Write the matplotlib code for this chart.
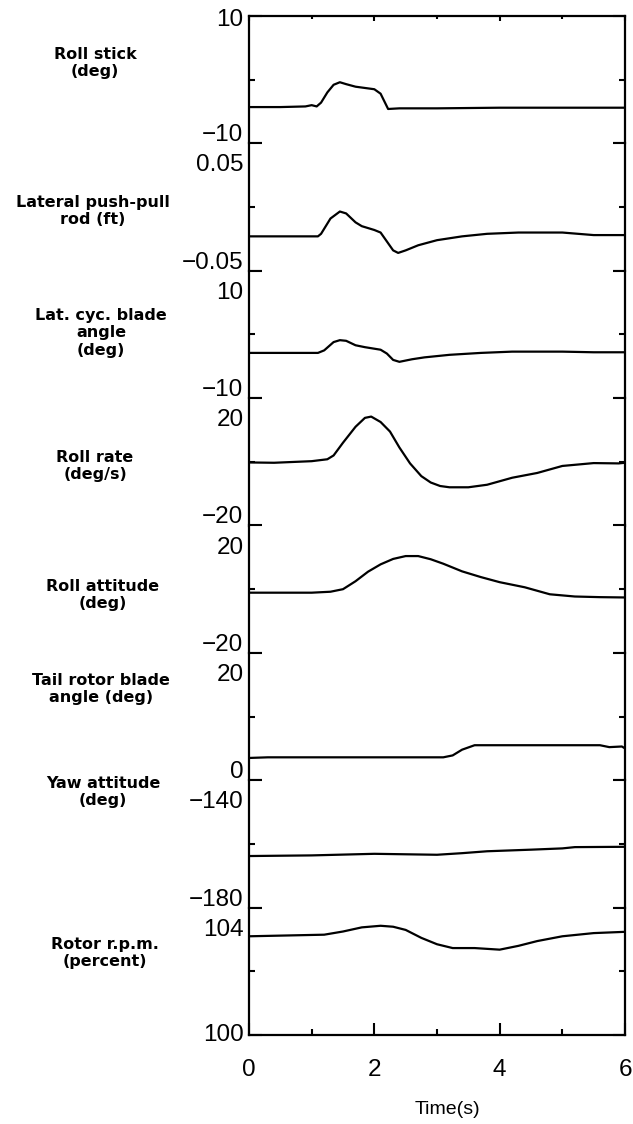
import matplotlib
matplotlib.use("Agg")
import matplotlib.pyplot as plt

# digitised time histories (time in s)
roll_stick_t = [0, 0.5, 0.9, 1.0, 1.08, 1.15, 1.25, 1.35, 1.45, 1.55, 1.7, 1.85, 2.0, 2.1, 2.17, 2.22, 2.4, 3.0, 4.0, 5.0, 6.0]
roll_stick = [-4.3, -4.3, -4.2, -4.0, -4.2, -3.6, -2.0, -0.8, -0.4, -0.7, -1.1, -1.3, -1.5, -2.2, -3.6, -4.6, -4.5, -4.5, -4.4, -4.4, -4.4]

push_rod_t = [0, 1.1, 1.15, 1.3, 1.45, 1.55, 1.7, 1.8, 2.0, 2.1, 2.2, 2.3, 2.38, 2.5, 2.7, 3.0, 3.4, 3.8, 4.3, 5.0, 5.5, 6.0]
push_rod = [-0.023, -0.023, -0.021, -0.009, -0.0035, -0.005, -0.012, -0.015, -0.018, -0.020, -0.027, -0.034, -0.036, -0.034, -0.030, -0.026, -0.023, -0.021, -0.020, -0.020, -0.022, -0.022]

lat_cyc_t = [0, 1.1, 1.2, 1.35, 1.45, 1.55, 1.7, 1.85, 2.1, 2.2, 2.3, 2.4, 2.6, 2.8, 3.2, 3.7, 4.2, 5.0, 5.5, 6.0]
lat_cyc = [-2.9, -2.9, -2.5, -1.2, -0.9, -1.0, -1.7, -2.0, -2.4, -3.0, -4.0, -4.3, -3.9, -3.6, -3.2, -2.9, -2.7, -2.7, -2.8, -2.8]

roll_rate_t = [0, 0.4, 1.0, 1.25, 1.35, 1.5, 1.7, 1.85, 1.95, 2.1, 2.25, 2.4, 2.57, 2.75, 2.9, 3.05, 3.2, 3.5, 3.8, 4.2, 4.6, 5.0, 5.5, 5.9, 6.0]
roll_rate = [-0.2, -0.3, 0.2, 0.8, 2.0, 6.0, 11.0, 13.8, 14.2, 12.5, 9.5, 4.5, -0.5, -4.5, -6.5, -7.6, -8.0, -8.0, -7.2, -5.0, -3.5, -1.3, -0.4, -0.5, -0.3]

roll_att_t = [0, 1.0, 1.3, 1.5, 1.7, 1.9, 2.1, 2.3, 2.5, 2.7, 2.9, 3.1, 3.4, 3.7, 4.0, 4.4, 4.8, 5.2, 5.6, 6.0]
roll_att = [-1.1, -1.1, -0.8, 0.0, 2.5, 5.5, 7.8, 9.5, 10.4, 10.4, 9.4, 8.0, 5.6, 3.8, 2.2, 0.6, -1.6, -2.3, -2.5, -2.6]

tail_t = [0, 0.3, 2.0, 3.1, 3.25, 3.4, 3.6, 4.0, 5.0, 5.6, 5.75, 5.95, 6.0]
tail = [3.5, 3.6, 3.6, 3.6, 3.9, 4.8, 5.5, 5.5, 5.5, 5.5, 5.2, 5.3, 5.0]

yaw_t = [0, 1.0, 2.0, 3.0, 3.4, 3.8, 4.5, 5.0, 5.2, 6.0]
yaw = [-163.8, -163.6, -163.1, -163.4, -162.9, -162.3, -161.8, -161.4, -161.0, -160.9]

rpm_t = [0, 1.2, 1.5, 1.8, 2.1, 2.3, 2.5, 2.75, 3.0, 3.25, 3.6, 4.0, 4.3, 4.6, 5.0, 5.5, 6.0]
rpm = [103.1, 103.15, 103.25, 103.38, 103.43, 103.4, 103.3, 103.05, 102.85, 102.73, 102.73, 102.68, 102.8, 102.95, 103.1, 103.2, 103.24]

labels = ["Roll stick\n(deg)", "Lateral push-pull\nrod (ft)", "Lat. cyc. blade\nangle\n(deg)",
          "Roll rate\n(deg/s)", "Roll attitude\n(deg)", "Tail rotor blade\nangle (deg)",
          "Yaw attitude\n(deg)", "Rotor r.p.m.\n(percent)"]
y_limits = [(-10, 10), (-0.05, 0.05), (-10, 10), (-20, 20), (-20, 20), (0, 20), (-180, -140), (100, 104)]
y_ticktext = [("\u221210", "10"), ("\u22120.05", "0.05"), ("\u221210", "10"), ("\u221220", "20"),
              ("\u221220", "20"), ("0", "20"), ("\u2212180", "\u2212140"), ("100", "104")]
label_y = [63, 211, 333, 466, 595, 689, 792, 953]
label_x = [95, 93, 101, 95, 103, 101, 103, 105]

series = [(roll_stick_t, roll_stick), (push_rod_t, push_rod), (lat_cyc_t, lat_cyc),
          (roll_rate_t, roll_rate), (roll_att_t, roll_att), (tail_t, tail),
          (yaw_t, yaw), (rpm_t, rpm)]

num_font = ["Liberation Sans", "DejaVu Sans"]

fig = plt.figure(figsize=(6.33, 11.24), dpi=100)
axes = fig.subplots(8, 1, sharex=True, gridspec_kw=dict(hspace=0))
fig.subplots_adjust(left=249 / 633, right=625 / 633, top=1 - 16 / 1124, bottom=1 - 1035 / 1124)

for i, ax in enumerate(axes):
    t, v = series[i]
    lo, hi = y_limits[i]
    ax.plot(t, v, color="black", lw=1.6)
    ax.set_xlim(0, 6)
    ax.set_ylim(lo, hi)
    for s in ax.spines.values():
        s.set_linewidth(1.6)
    ax.spines["top"].set_visible(i == 0)
    ax.spines["bottom"].set_visible(i == 7)

    ax.set_yticks([lo, hi])
    ax.set_yticks([(lo + hi) / 2], minor=True)
    ax.tick_params(axis="y", which="both", direction="in", left=True, right=True,
                   labelleft=False, width=1.5)
    ax.tick_params(axis="y", which="major", length=9)
    ax.tick_params(axis="y", which="minor", length=4)

    # numbers beside the axis
    lo_txt, hi_txt = y_ticktext[i]
    if i == 0:
        ax.annotate(hi_txt, xy=(0, hi), xycoords=("axes fraction", "data"), xytext=(-4, -3),
                    textcoords="offset points", ha="right", va="center", fontsize=17.5, family=num_font)
    else:
        ax.annotate(hi_txt, xy=(0, hi), xycoords=("axes fraction", "data"), xytext=(-4, -8),
                    textcoords="offset points", ha="right", va="top", fontsize=17.5, family=num_font)
    if i == 7:
        ax.annotate(lo_txt, xy=(0, lo), xycoords=("axes fraction", "data"), xytext=(-4, 0),
                    textcoords="offset points", ha="right", va="center", fontsize=17.5, family=num_font)
    else:
        ax.annotate(lo_txt, xy=(0, lo), xycoords=("axes fraction", "data"), xytext=(-4, 1.5),
                    textcoords="offset points", ha="right", va="baseline", fontsize=17.5, family=num_font)

    fig.text(label_x[i] / 633, 1 - label_y[i] / 1124, labels[i], ha="center", va="center",
             fontsize=11.5, fontweight="bold", family="DejaVu Sans", linespacing=1.2)

    ax.tick_params(axis="x", which="both", direction="in", width=1.5,
                   bottom=(i == 7), top=(i == 0), labelbottom=(i == 7))

axes[-1].set_xticks([0, 2, 4, 6])
axes[-1].set_xticks([1, 3, 5], minor=True)
axes[-1].tick_params(axis="x", which="major", length=9, pad=17, labelsize=17.5)
axes[-1].tick_params(axis="x", which="minor", length=4)
for lab in axes[-1].get_xticklabels():
    lab.set_family(num_font)

fig.text(447 / 633, 1 - 1110 / 1124, "Time(s)", ha="center", va="center", fontsize=14,
         family="Liberation Sans")

fig.savefig("out.png", dpi=100)
